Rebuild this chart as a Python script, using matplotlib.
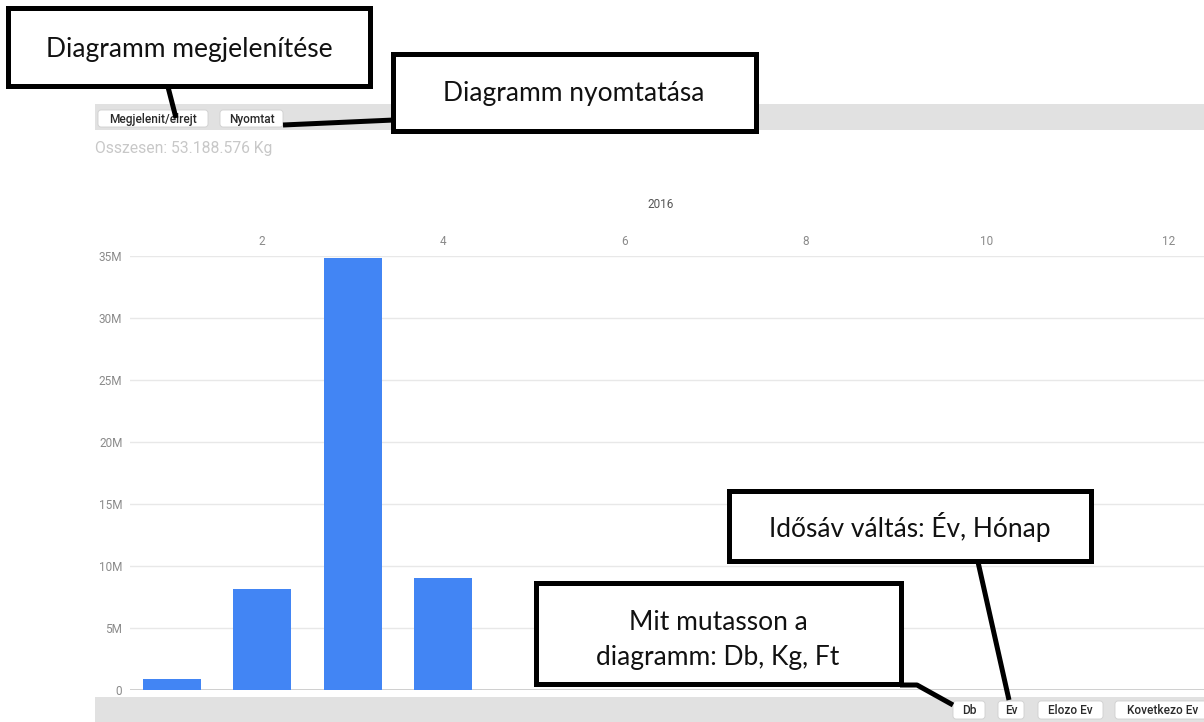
import matplotlib
matplotlib.use("Agg")
import matplotlib.pyplot as plt
from matplotlib.patches import Rectangle, FancyBboxPatch
from matplotlib.ticker import FuncFormatter

# ---- data ----
months = [1, 2, 3, 4]
values = [0.9e6, 8.17e6, 34.8e6, 9.07e6]
top_ticks = [2, 4, 6, 8, 10, 12]
y_ticks = [0, 5e6, 10e6, 15e6, 20e6, 25e6, 30e6, 35e6]
year_label = "2016"
total_label = "Osszesen: 53.188.576 Kg"
top_buttons = ["Megjelenit/elrejt", "Nyomtat"]
bottom_buttons = ["Db", "Ev", "Elozo Ev", "Kovetkezo Ev"]
callouts = ["Diagramm megjelenítése", "Diagramm nyomtatása",
            "Idősáv váltás: Év, Hónap", "Mit mutasson a\ndiagramm: Db, Kg, Ft"]

W, H = 1204, 722
fig = plt.figure(figsize=(W / 100, H / 100), dpi=100)
fig.patch.set_facecolor("white")

def fx(px):
    return px / W

def fy(py):
    return 1 - py / H

# ---- chart axes ----
ax_left, ax_right = 130, 1204
ax_top, ax_bot = 256, 690
ax = fig.add_axes([fx(ax_left), fy(ax_bot), fx(ax_right - ax_left), (ax_bot - ax_top) / H])
x0 = 81.0
dx = 90.6
ax.set_xlim((ax_left - x0) / dx, (ax_right - x0) / dx)
ax.set_ylim(0, 35e6)
ax.bar(months, values, width=0.64, color="#4285f4", zorder=3)
ax.set_yticks(y_ticks)
ax.yaxis.set_major_formatter(FuncFormatter(lambda v, p: "0" if v == 0 else f"{int(v/1e6)}M"))
ax.set_xticks(top_ticks)
ax.xaxis.tick_top()
ax.tick_params(axis="x", length=0, pad=5.5, labelsize=8.5, labelcolor="#8a8a8a")
ax.tick_params(axis="y", length=0, pad=5.5, labelsize=8.5, labelcolor="#8a8a8a")
for lab in ax.get_xticklabels() + ax.get_yticklabels():
    lab.set_fontfamily("Roboto")
ax.grid(axis="y", color="#e8e8e8", linewidth=1.0, zorder=0)
ax.grid(axis="x", visible=False)
for s in ax.spines.values():
    s.set_visible(False)
ax.axhline(0, color="#c8c8c8", linewidth=1.2, zorder=2)
ax.set_facecolor("none")

# ---- overlay for page elements ----
ov = fig.add_axes([0, 0, 1, 1], zorder=10)
ov.set_xlim(0, W)
ov.set_ylim(H, 0)
ov.axis("off")
ov.patch.set_alpha(0)

# toolbars
ov.add_patch(Rectangle((95, 104), W - 95, 26, facecolor="#e1e1e1", edgecolor="none"))
ov.add_patch(Rectangle((95, 697), W - 95, 30, facecolor="#e1e1e1", edgecolor="none"))

def button(x1, x2, y1, y2, text):
    ov.add_patch(FancyBboxPatch((x1, y1), x2 - x1, y2 - y1,
                                boxstyle="round,pad=0,rounding_size=3",
                                facecolor="white", edgecolor="#cfcfcf", linewidth=0.6))
    ov.text((x1 + x2) / 2, (y1 + y2) / 2 + 0.5, text, ha="center", va="center",
            fontsize=8.6, color="#2a2a2a", family="Roboto", fontweight="medium")

button(98, 208, 110, 127, top_buttons[0])
button(220, 283, 110, 127, top_buttons[1])
button(953, 985, 701, 719, bottom_buttons[0])
button(998, 1024, 701, 719, bottom_buttons[1])
button(1038, 1103, 701, 719, bottom_buttons[2])
button(1115, 1210, 701, 719, bottom_buttons[3])

ov.text(95, 148, total_label, ha="left", va="center", fontsize=11.3,
        color="#c8c8c8", family="Roboto")
ov.text(661, 205, year_label, ha="center", va="center", fontsize=8.5,
        color="#555555", family="Roboto")

# callout boxes
lw = 3.6
def callout(x1, x2, y1, y2, text, tx, ty, size=19, ls=1.2):
    ov.add_patch(Rectangle((x1, y1), x2 - x1, y2 - y1, facecolor="white",
                           edgecolor="black", linewidth=lw, zorder=5))
    ov.text(tx, ty, text, ha="center", va="center", fontsize=size,
            family="Lato", color="#111111", zorder=6, linespacing=ls)

# connecting lines (under boxes)
ov.plot([168, 176], [87, 118], color="black", linewidth=lw, solid_capstyle="butt", zorder=4)
ov.plot([283, 394], [125, 120], color="black", linewidth=lw, solid_capstyle="butt", zorder=4)
ov.plot([978, 1009], [562, 700], color="black", linewidth=lw, solid_capstyle="butt", zorder=4)
ov.plot([900, 917, 953], [685, 685, 705], color="black", linewidth=lw, solid_capstyle="butt", zorder=4)

callout(8, 370, 8, 86, callouts[0], 189, 49)
callout(393, 756, 54, 131, callouts[1], 574, 94)
callout(729, 1091, 491, 561, callouts[2], 910, 527)
callout(536, 901, 583, 684, callouts[3], 718, 640, ls=1.45)

fig.savefig("out.png", dpi=100)
